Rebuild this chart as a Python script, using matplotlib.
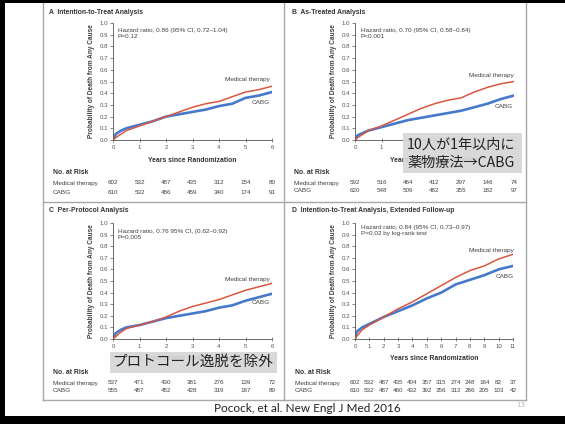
import matplotlib
matplotlib.use("Agg")
import matplotlib.pyplot as plt
from matplotlib.patches import Rectangle
from matplotlib.transforms import blended_transform_factory

W, H = 565, 424
RED = "#d8573f"
BLUE = "#4678cc"
GRAY_TXT = "#404040"
FONT = ["Liberation Sans", "DejaVu Sans"]
JP = ["Noto Sans CJK JP", "DejaVu Sans"]

# ---- data ----
t6 = [0, 0.1, 0.3, 0.5, 1, 1.5, 2, 2.5, 3, 3.5, 4, 4.5, 5, 5.5, 6]
a_med = [0, 0.02, 0.05, 0.08, 0.12, 0.16, 0.20, 0.24, 0.28, 0.31, 0.33, 0.37, 0.41, 0.43, 0.46]
a_cabg = [0, 0.05, 0.08, 0.10, 0.13, 0.16, 0.20, 0.22, 0.24, 0.26, 0.29, 0.31, 0.36, 0.38, 0.41]
b_med = [0, 0.02, 0.05, 0.08, 0.12, 0.17, 0.22, 0.27, 0.31, 0.34, 0.36, 0.41, 0.45, 0.48, 0.50]
b_cabg = [0, 0.04, 0.06, 0.08, 0.11, 0.14, 0.17, 0.19, 0.21, 0.23, 0.25, 0.28, 0.31, 0.35, 0.38]
c_med = [0, 0.02, 0.06, 0.09, 0.12, 0.15, 0.19, 0.24, 0.28, 0.31, 0.34, 0.38, 0.42, 0.45, 0.48]
c_cabg = [0, 0.05, 0.08, 0.10, 0.12, 0.15, 0.18, 0.20, 0.22, 0.24, 0.27, 0.29, 0.33, 0.36, 0.39]
t11 = [0, 0.1, 0.5, 1, 2, 3, 4, 5, 6, 7, 8, 9, 10, 11]
d_med = [0, 0.02, 0.08, 0.12, 0.19, 0.26, 0.32, 0.39, 0.46, 0.53, 0.59, 0.63, 0.69, 0.73]
d_cabg = [0, 0.06, 0.10, 0.13, 0.19, 0.24, 0.29, 0.35, 0.40, 0.47, 0.51, 0.55, 0.60, 0.63]

risk_a = ([602, 532, 487, 435, 312, 154, 80], [610, 532, 486, 459, 340, 174, 91])
risk_b = ([592, 516, 464, 412, 297, 146, 74], [620, 548, 509, 482, 355, 182, 97])
risk_c = ([537, 471, 430, 381, 276, 139, 72], [555, 487, 452, 428, 319, 167, 89])
risk_d = ([602, 532, 487, 435, 404, 357, 315, 274, 248, 164, 82, 37],
          [610, 532, 487, 460, 432, 392, 356, 312, 286, 205, 103, 42])

titles = ["A  Intention-to-Treat Analysis", "B  As-Treated Analysis",
          "C  Per-Protocol Analysis", "D  Intention-to-Treat Analysis, Extended Follow-up"]
hr_text = ["Hazard ratio, 0.86 (95% CI, 0.72\u20131.04)\nP=0.12",
           "Hazard ratio, 0.70 (95% CI, 0.58\u20130.84)\nP<0.001",
           "Hazard ratio, 0.76 95% CI, (0.62\u20130.92)\nP=0.005",
           "Hazard ratio, 0.84 (95% CI, 0.73\u20130.97)\nP=0.02 by log-rank test"]


def fx(x): return x / W
def fy(y): return 1 - y / H


fig = plt.figure(figsize=(W / 100, H / 100), dpi=100)
fig.patch.set_facecolor("white")


def ptext(x, y, s, **kw):
    kw.setdefault("family", FONT)
    kw.setdefault("color", GRAY_TXT)
    return fig.text(fx(x), fy(y), s, **kw)


def panel(x0, x1, ytop, ybot, t, med, cabg, xmax, hr, title, title_xy, hr_xy,
          med_xy, cabg_xy, risk, risk_x, risk_y, xlabel_y):
    ax = fig.add_axes([fx(x0), fy(ybot), (x1 - x0) / W, (ybot - ytop) / H])
    ax.plot(t, med, color=RED, lw=1.1, zorder=3)
    ax.plot(t, cabg, color=BLUE, lw=1.9, zorder=2)
    ax.set_xlim(0, xmax)
    ax.set_ylim(0, 1)
    ax.set_xticks(range(xmax + 1))
    ax.set_yticks([i / 10 for i in range(11)])
    ax.set_yticklabels([f"{i / 10:.1f}" for i in range(11)])
    for s in ["top", "right"]:
        ax.spines[s].set_visible(False)
    for s in ["left", "bottom"]:
        ax.spines[s].set_color("#555555")
        ax.spines[s].set_linewidth(0.6)
    ax.tick_params(axis="y", length=2.5, width=0.5, pad=1, labelsize=4.4, colors="#555555")
    ax.tick_params(axis="x", direction="inout", length=3, width=0.5, pad=2,
                   labelsize=4.4, colors="#555555")
    for lab in ax.get_xticklabels() + ax.get_yticklabels():
        lab.set_family(FONT)
    ax.set_ylabel("Probability of Death from Any Cause", fontsize=4.7, family=FONT,
                  color=GRAY_TXT, fontweight="bold", labelpad=3)
    ax.patch.set_alpha(0)
    ptext(*title_xy, title, fontsize=4.9, fontweight="bold", va="center", color="#333333")
    ptext(*hr_xy, hr, fontsize=4.6, va="top", linespacing=1.3)
    ptext(*med_xy, "Medical therapy", fontsize=4.6, ha="right", va="center")
    ptext(*cabg_xy, "CABG", fontsize=4.6, ha="right", va="center")
    ptext((x0 + x1) / 2, xlabel_y, "Years since Randomization", fontsize=4.9,
          fontweight="bold", ha="center", va="center", color="#333333")
    ptext(risk_x, risk_y[0], "No. at Risk", fontsize=4.9, fontweight="bold", va="center",
          color="#333333")
    ptext(risk_x, risk_y[1], "Medical therapy", fontsize=4.6, va="center")
    ptext(risk_x, risk_y[2], "CABG", fontsize=4.6, va="center")
    tr = blended_transform_factory(ax.transData, fig.transFigure)
    for row, yy in zip(risk, risk_y[1:]):
        for i, n in enumerate(row):
            ax.text(i, fy(yy), str(n), transform=tr, fontsize=4.5, ha="center",
                    va="center", family=FONT, color=GRAY_TXT, clip_on=False)
    return ax


panel(113, 272, 23, 140, t6, a_med, a_cabg, 6, hr_text[0], titles[0], (49, 12),
      (118, 28), (270, 80), (270, 103), risk_a, 53, (173, 183, 192), 160)
panel(355, 514, 23, 140, t6, b_med, b_cabg, 6, hr_text[1], titles[1], (292, 12),
      (361, 28), (514, 76), (513, 107), risk_b, 294, (173, 183, 191), 160)
panel(113, 272, 223, 339, t6, c_med, c_cabg, 6, hr_text[2], titles[2], (49, 211),
      (118, 229), (270, 280), (270, 303), risk_c, 53, (372, 383, 391), 359)
panel(355, 513, 223, 339, t11, d_med, d_cabg, 11, hr_text[3], titles[3], (292, 211),
      (361, 225), (514, 250), (514, 277), risk_d, 295, (373, 383, 391), 359)

# panel frame and dividers
frame = "#a8a8a8"
fig.add_artist(plt.Line2D([fx(43), fx(43)], [fy(3), fy(400)], color=frame, lw=1.0))
fig.add_artist(plt.Line2D([fx(526), fx(526)], [fy(3), fy(400)], color=frame, lw=1.0))
fig.add_artist(plt.Line2D([fx(43), fx(526)], [fy(400), fy(400)], color=frame, lw=1.0))
fig.add_artist(plt.Line2D([fx(43), fx(526)], [fy(202), fy(202)], color=frame, lw=1.0))
fig.add_artist(plt.Line2D([fx(284), fx(284)], [fy(3), fy(400)], color=frame, lw=1.0))

# Japanese annotation boxes
fig.add_artist(Rectangle((fx(403), fy(173)), (522 - 403) / W, 40 / H,
                         transform=fig.transFigure, facecolor="#d6d6d6", alpha=0.93,
                         edgecolor="none", zorder=5))
fig.text(fx(407), fy(145), "10人が1年以内に", fontsize=10.2, family=JP, color="#222222",
         va="center", zorder=6)
fig.text(fx(407), fy(163), "薬物療法→CABG", fontsize=10.2, family=JP, color="#222222",
         va="center", zorder=6)
fig.add_artist(Rectangle((fx(110), fy(373)), (277 - 110) / W, 21 / H,
                         transform=fig.transFigure, facecolor="#d6d6d6", alpha=0.93,
                         edgecolor="none", zorder=5))
fig.text(fx(193), fy(362), "プロトコール逸脱を除外", fontsize=10.5, family=JP,
         color="#222222", ha="center", va="center", zorder=6)

# citation and slide chrome
fig.text(fx(307), fy(409), "Pocock, et al. New Engl J Med 2016", fontsize=8.5,
         family=["Lato", "DejaVu Sans"], color="#222222", ha="center", va="center")
fig.text(fx(521), fy(405), "13", fontsize=5, color="#b8b8b8", ha="center", va="center")
for r in [(0, 0, W, 3), (0, 0, 5, H), (0, 416, W, 8)]:
    fig.add_artist(Rectangle((fx(r[0]), fy(r[1] + r[3])), r[2] / W, r[3] / H,
                             transform=fig.transFigure, facecolor="black",
                             edgecolor="none", zorder=10))

fig.savefig("out.png", dpi=100)
